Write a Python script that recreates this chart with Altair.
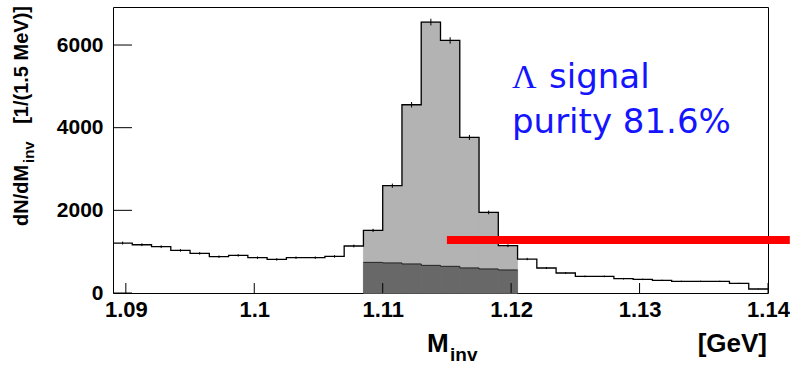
import altair as alt
import pandas as pd

# bin low edges (1.5 MeV bins) and upper edge
edges = [1.0890, 1.0905, 1.0920, 1.0935, 1.0950, 1.0965, 1.0980, 1.0995, 1.1010, 1.1025,
         1.1040, 1.1055, 1.1070, 1.1085, 1.1100, 1.1115, 1.1130, 1.1145, 1.1160, 1.1175,
         1.1190, 1.1205, 1.1220, 1.1235, 1.1250, 1.1265, 1.1280, 1.1295, 1.1310, 1.1325,
         1.1340, 1.1355, 1.1370, 1.1385]
upper_edge = 1.1400
counts = [1209, 1168, 1120, 1031, 958, 878, 910, 854, 813, 854,
          854, 885, 1137, 1515, 2596, 4555, 6555, 6111, 3764, 1950,
          1144, 822, 605, 484, 402, 402, 346, 330, 305, 281,
          281, 281, 233, 97]
errors = [35, 34, 33, 32, 31, 30, 30, 29, 29, 29,
          29, 30, 34, 39, 51, 67, 81, 78, 61, 44,
          34, 29, 25, 22, 20, 20, 19, 18, 17, 17,
          17, 17, 15, 10]
# signal window bins (indices 13..20) and background under the peak
signal_first, signal_last = 13, 20
background = [740, 726, 701, 668, 644, 605, 580, 556]

x_ticks = [1.09, 1.10, 1.11, 1.12, 1.13, 1.14]
y_ticks = [0, 2000, 4000, 6000]
cut_x = [1.1150, 1.1417]
cut_y = 1282

W, H = 655, 286
PL, PT = 113, 7

bw = 0.0015
hist = pd.DataFrame({
    "lo": edges,
    "hi": edges[1:] + [upper_edge],
    "n": counts,
    "err": errors,
})
hist["c"] = hist["lo"] + bw / 2
hist["ylo"] = hist["n"] - hist["err"]
hist["yhi"] = hist["n"] + hist["err"]

sig = hist.iloc[signal_first:signal_last + 1].copy()
sig["bg"] = background

step = pd.DataFrame({"x": edges + [upper_edge], "n": counts + [counts[-1]]})
sig_edges = list(sig["lo"]) + [sig["hi"].iloc[-1]]
bgstep = pd.DataFrame({"x": sig_edges, "n": background + [background[-1]]})

xs = alt.Scale(domain=[1.089, 1.14], nice=False, zero=False)
ys = alt.Scale(domain=[0, 6920], nice=False, zero=False)
lab = dict(labelFont="Liberation Sans", labelFontWeight="bold",
           labelColor="black", ticks=False, domain=False, grid=False, title=None,
           labelFlush=False, labelOverlap=False)
xaxis = alt.Axis(values=x_ticks, format=".3~g", labelPadding=6, labelFontSize=22, **lab)
yaxis = alt.Axis(values=y_ticks, format="d", labelPadding=10, labelFontSize=21, **lab)

light = alt.Chart(sig).mark_rect(color="#b3b3b3", stroke="#b3b3b3", strokeWidth=0.8).encode(
    x=alt.X("lo:Q", scale=xs, axis=xaxis), x2="hi:Q",
    y=alt.Y("n:Q", scale=ys, axis=yaxis), y2=alt.datum(0))
dark = alt.Chart(sig).mark_rect(color="#686868", stroke="#686868", strokeWidth=0.8).encode(
    x=alt.X("lo:Q", scale=xs, axis=xaxis), x2="hi:Q",
    y=alt.Y("bg:Q", scale=ys, axis=yaxis), y2=alt.datum(0))
bgline = alt.Chart(bgstep).mark_line(interpolate="step-after", color="#2a2a2a", strokeWidth=1).encode(
    x=alt.X("x:Q", scale=xs, axis=xaxis), y=alt.Y("n:Q", scale=ys, axis=yaxis))
outline = alt.Chart(step).mark_line(interpolate="step-after", color="black", strokeWidth=1.3).encode(
    x=alt.X("x:Q", scale=xs, axis=xaxis), y=alt.Y("n:Q", scale=ys, axis=yaxis))
errbars = alt.Chart(hist).mark_rule(color="black", strokeWidth=1).encode(
    x=alt.X("c:Q", scale=xs, axis=xaxis),
    y=alt.Y("ylo:Q", scale=ys, axis=yaxis), y2="yhi:Q")

xt = alt.Chart(pd.DataFrame({"v": x_ticks})).mark_rule(color="black", strokeWidth=1).encode(
    x=alt.X("v:Q", scale=xs, axis=xaxis), y=alt.value(H), y2=alt.value(H - 10))
yt = alt.Chart(pd.DataFrame({"v": y_ticks})).mark_rule(color="black", strokeWidth=1).encode(
    y=alt.Y("v:Q", scale=ys, axis=yaxis), x=alt.value(0), x2=alt.value(19))

cut = alt.Chart(pd.DataFrame({"a": [cut_x[0]], "b": [cut_x[1]], "y": [cut_y]})).mark_rule(
    color="#ff0000", strokeWidth=8, strokeCap="butt", clip=False).encode(
    x=alt.X("a:Q", scale=xs, axis=xaxis), x2="b:Q", y=alt.Y("y:Q", scale=ys, axis=yaxis))

one = pd.DataFrame({"k": [0]})


def txt(s, x, y, size, font="Liberation Sans", weight="bold", color="black",
        align="left", angle=0):
    kw = dict(font=font, fontSize=size, fontWeight=weight, color=color,
              align=align, baseline="alphabetic")
    if angle:
        kw["angle"] = angle
    return alt.Chart(one).mark_text(**kw).encode(
        x=alt.value(x - PL), y=alt.value(y - PT), text=alt.value(s))


blue = "#1414ff"
texts = [
    txt("Λ", 512, 88, 34, font="Liberation Serif", weight="normal", color=blue),
    txt("signal", 549, 88, 34, font="DejaVu Sans", weight="normal", color=blue),
    txt("purity 81.6%", 512, 133, 34, font="DejaVu Sans", weight="normal", color=blue),
    txt("M", 427, 352, 26),
    txt("inv", 450, 361, 19),
    txt("[GeV]", 767, 352, 26, align="right"),
    txt("dN/dM", 28, 226, 20, angle=270),
    txt("inv", 34, 163, 15, angle=270),
    txt("[1/(1.5 MeV)]", 28, 6, 20, align="right", angle=270),
]

chart = alt.layer(light, dark, bgline, outline, errbars, xt, yt, cut, *texts).properties(
    width=W, height=H,
    autosize=alt.AutoSizeParams(type="none"),
    padding={"left": PL, "top": PT, "right": 790 - PL - W, "bottom": 365 - PT - H},
    background="white",
).configure_view(stroke="black", strokeWidth=1)

chart.save("out.html", embed_options={"renderer": "svg", "actions": False})
